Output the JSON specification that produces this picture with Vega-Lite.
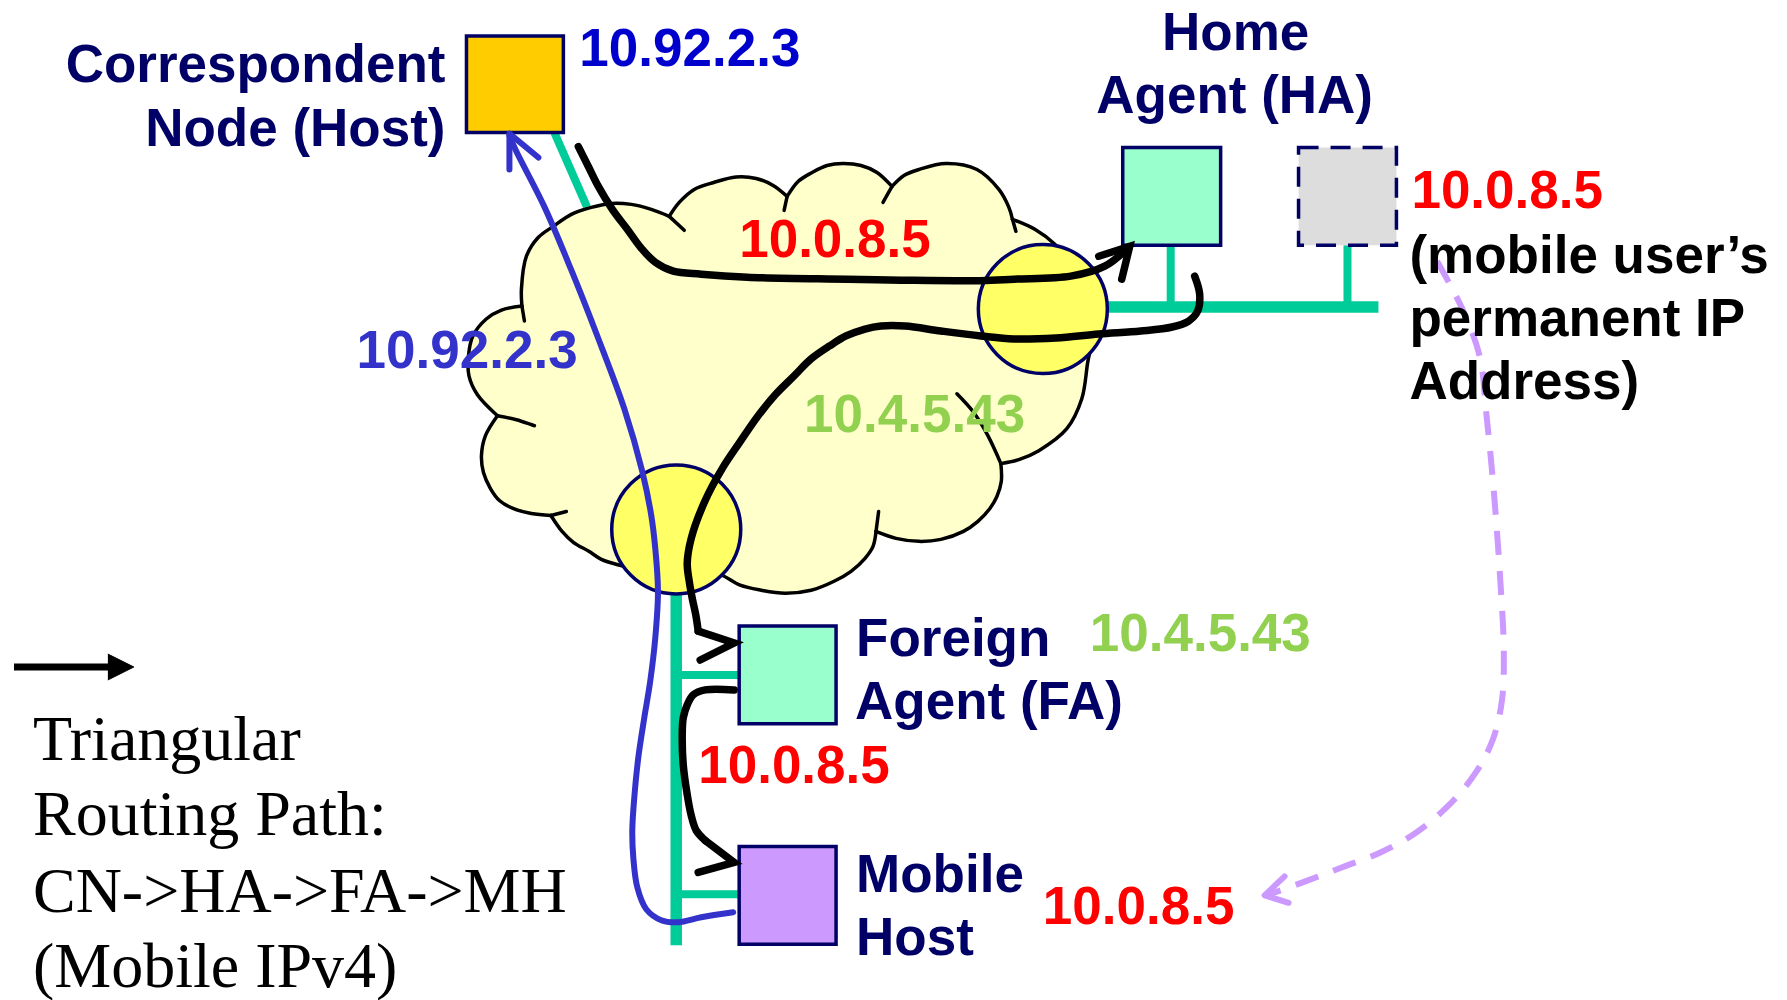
{
"$schema": "https://vega.github.io/schema/vega-lite/v6.json",
"width": 1787, "height": 1000,
"autosize": {"type": "fit", "contains": "padding"},
"padding": 0,
"background": "white",
"config": {"view": {"stroke": null}},
"datasets": {
"paths": [
{"p":"g1","k":"green","i":0,"x":553,"y":133},{"p":"g1","k":"green","i":1,"x":592,"y":222},{"p":"g1","k":"green","i":2,"x":640,"y":400},{"p":"g1","k":"green","i":3,"x":675,"y":532},
{"p":"g0","k":"green2","i":0,"x":675,"y":532},{"p":"g0","k":"green2","i":1,"x":675,"y":948},
{"p":"g2","k":"green","i":0,"x":675,"y":677},{"p":"g2","k":"green","i":1,"x":738,"y":677},
{"p":"g3","k":"green","i":0,"x":675,"y":897},{"p":"g3","k":"green","i":1,"x":738,"y":897},
{"p":"g4","k":"green2","i":0,"x":1042,"y":308},{"p":"g4","k":"green2","i":1,"x":1378,"y":308},
{"p":"g5","k":"green","i":0,"x":1170,"y":246},{"p":"g5","k":"green","i":1,"x":1170,"y":308},
{"p":"g6","k":"green","i":0,"x":1347,"y":246},{"p":"g6","k":"green","i":1,"x":1347,"y":308},
{"p":"k1","k":"black","i":0,"x":577,"y":147},{"p":"k1","k":"black","i":1,"x":587,"y":167},{"p":"k1","k":"black","i":2,"x":597,"y":187},{"p":"k1","k":"black","i":3,"x":611,"y":210},{"p":"k1","k":"black","i":4,"x":626,"y":230},{"p":"k1","k":"black","i":5,"x":640,"y":249},{"p":"k1","k":"black","i":6,"x":654,"y":263},{"p":"k1","k":"black","i":7,"x":672,"y":272},{"p":"k1","k":"black","i":8,"x":700,"y":275},{"p":"k1","k":"black","i":9,"x":746,"y":278},{"p":"k1","k":"black","i":10,"x":846,"y":280},{"p":"k1","k":"black","i":11,"x":900,"y":281},{"p":"k1","k":"black","i":12,"x":980,"y":281.5},{"p":"k1","k":"black","i":13,"x":1013,"y":280},{"p":"k1","k":"black","i":14,"x":1070,"y":277},{"p":"k1","k":"black","i":15,"x":1104,"y":267},{"p":"k1","k":"black","i":16,"x":1127,"y":249},
{"p":"k1h","k":"blackhead","i":0,"x":1098,"y":257},{"p":"k1h","k":"blackhead","i":1,"x":1129,"y":247},{"p":"k1h","k":"blackhead","i":2,"x":1121,"y":280},
{"p":"k2","k":"black","i":0,"x":1194,"y":277},{"p":"k2","k":"black","i":1,"x":1199,"y":295},{"p":"k2","k":"black","i":2,"x":1197,"y":312},{"p":"k2","k":"black","i":3,"x":1188,"y":322},{"p":"k2","k":"black","i":4,"x":1171.5,"y":328},{"p":"k2","k":"black","i":5,"x":1140,"y":332},{"p":"k2","k":"black","i":6,"x":1098,"y":335},{"p":"k2","k":"black","i":7,"x":1055,"y":339},{"p":"k2","k":"black","i":8,"x":1013,"y":340},{"p":"k2","k":"black","i":9,"x":980,"y":337},{"p":"k2","k":"black","i":10,"x":940,"y":332},{"p":"k2","k":"black","i":11,"x":904,"y":327},{"p":"k2","k":"black","i":12,"x":880,"y":327},{"p":"k2","k":"black","i":13,"x":864,"y":330},{"p":"k2","k":"black","i":14,"x":845,"y":337},{"p":"k2","k":"black","i":15,"x":828.5,"y":347},{"p":"k2","k":"black","i":16,"x":810,"y":360},{"p":"k2","k":"black","i":17,"x":793,"y":377},{"p":"k2","k":"black","i":18,"x":775,"y":395},{"p":"k2","k":"black","i":19,"x":757,"y":417},{"p":"k2","k":"black","i":20,"x":739,"y":443},{"p":"k2","k":"black","i":21,"x":721,"y":470},{"p":"k2","k":"black","i":22,"x":703.5,"y":503},{"p":"k2","k":"black","i":23,"x":690,"y":540},{"p":"k2","k":"black","i":24,"x":686,"y":565},{"p":"k2","k":"black","i":25,"x":688,"y":583},{"p":"k2","k":"black","i":26,"x":691,"y":600},{"p":"k2","k":"black","i":27,"x":694.6,"y":617},{"p":"k2","k":"black","i":28,"x":697,"y":633},
{"p":"k2h","k":"blackhead","i":0,"x":697,"y":633},{"p":"k2h","k":"blackhead","i":1,"x":733,"y":645},{"p":"k2h","k":"blackhead","i":2,"x":699,"y":662},
{"p":"k3","k":"black","i":0,"x":733,"y":692},{"p":"k3","k":"black","i":1,"x":704,"y":692},{"p":"k3","k":"black","i":2,"x":692,"y":697},{"p":"k3","k":"black","i":3,"x":686,"y":707},{"p":"k3","k":"black","i":4,"x":682,"y":720},{"p":"k3","k":"black","i":5,"x":681,"y":737},{"p":"k3","k":"black","i":6,"x":682,"y":767},{"p":"k3","k":"black","i":7,"x":686,"y":797},{"p":"k3","k":"black","i":8,"x":690,"y":818},{"p":"k3","k":"black","i":9,"x":695,"y":833},{"p":"k3","k":"black","i":10,"x":704,"y":843},
{"p":"k3h","k":"blackhead","i":0,"x":704,"y":843},{"p":"k3h","k":"blackhead","i":1,"x":733,"y":865},{"p":"k3h","k":"blackhead","i":2,"x":697,"y":875},
{"p":"b1","k":"blue","i":0,"x":732,"y":915},{"p":"b1","k":"blue","i":1,"x":700,"y":920},{"p":"b1","k":"blue","i":2,"x":677,"y":925},{"p":"b1","k":"blue","i":3,"x":660,"y":923},{"p":"b1","k":"blue","i":4,"x":645,"y":912},{"p":"b1","k":"blue","i":5,"x":636,"y":890},{"p":"b1","k":"blue","i":6,"x":632,"y":860},{"p":"b1","k":"blue","i":7,"x":631,"y":833},{"p":"b1","k":"blue","i":8,"x":633,"y":800},{"p":"b1","k":"blue","i":9,"x":637,"y":760},{"p":"b1","k":"blue","i":10,"x":643,"y":720},{"p":"b1","k":"blue","i":11,"x":649,"y":683},{"p":"b1","k":"blue","i":12,"x":654,"y":640},{"p":"b1","k":"blue","i":13,"x":656.7,"y":593},{"p":"b1","k":"blue","i":14,"x":654,"y":550},{"p":"b1","k":"blue","i":15,"x":650,"y":517},{"p":"b1","k":"blue","i":16,"x":641,"y":473},{"p":"b1","k":"blue","i":17,"x":623,"y":410},{"p":"b1","k":"blue","i":18,"x":596,"y":337},{"p":"b1","k":"blue","i":19,"x":569.6,"y":270},{"p":"b1","k":"blue","i":20,"x":542.8,"y":207},{"p":"b1","k":"blue","i":21,"x":514,"y":150},{"p":"b1","k":"blue","i":22,"x":508,"y":136},
{"p":"b1h","k":"bluehead","i":0,"x":508,"y":170},{"p":"b1h","k":"bluehead","i":1,"x":508,"y":134},{"p":"b1h","k":"bluehead","i":2,"x":537,"y":158},
{"p":"u1","k":"purple","i":0,"x":1436.7,"y":262},{"p":"u1","k":"purple","i":1,"x":1462,"y":310},{"p":"u1","k":"purple","i":2,"x":1479.5,"y":358},{"p":"u1","k":"purple","i":3,"x":1486,"y":415},{"p":"u1","k":"purple","i":4,"x":1493,"y":487},{"p":"u1","k":"purple","i":5,"x":1500,"y":582.6},{"p":"u1","k":"purple","i":6,"x":1503.5,"y":654},{"p":"u1","k":"purple","i":7,"x":1501.7,"y":702},{"p":"u1","k":"purple","i":8,"x":1493,"y":740.5},{"p":"u1","k":"purple","i":9,"x":1476,"y":774},{"p":"u1","k":"purple","i":10,"x":1448.7,"y":807.4},{"p":"u1","k":"purple","i":11,"x":1414.4,"y":836},{"p":"u1","k":"purple","i":12,"x":1380,"y":855},{"p":"u1","k":"purple","i":13,"x":1342.5,"y":869.6},{"p":"u1","k":"purple","i":14,"x":1304.8,"y":884},{"p":"u1","k":"purple","i":15,"x":1266,"y":898},
{"p":"u1h","k":"purplehead","i":0,"x":1284,"y":879},{"p":"u1h","k":"purplehead","i":1,"x":1264,"y":898},{"p":"u1h","k":"purplehead","i":2,"x":1288,"y":905.5},
{"p":"lg","k":"legend","i":0,"x":12,"y":669},{"p":"lg","k":"legend","i":1,"x":110,"y":669},
{"p":"lgh","k":"legendhead","i":0,"x":106,"y":656},{"p":"lgh","k":"legendhead","i":1,"x":132,"y":669},{"p":"lgh","k":"legendhead","i":2,"x":106,"y":682}
],
"cloud": [
{"i":0,"x":496,"y":417},{"i":1,"x":476,"y":396},{"i":2,"x":467.5,"y":377},{"i":3,"x":467,"y":357},{"i":4,"x":471.4,"y":337},{"i":5,"x":484.8,"y":320},{"i":6,"x":500,"y":311},{"i":7,"x":520.5,"y":307},
{"i":8,"x":520,"y":290},{"i":9,"x":525,"y":257},{"i":10,"x":537,"y":238},{"i":11,"x":552,"y":227},{"i":12,"x":570,"y":215},{"i":13,"x":590,"y":208},{"i":14,"x":610,"y":204},{"i":15,"x":630,"y":205},{"i":16,"x":650,"y":210},{"i":17,"x":668,"y":217},
{"i":18,"x":678,"y":203},{"i":19,"x":693,"y":190},{"i":20,"x":712.5,"y":183},{"i":21,"x":735,"y":177.5},{"i":22,"x":755,"y":179},{"i":23,"x":772,"y":186},{"i":24,"x":786,"y":197},
{"i":25,"x":797,"y":182},{"i":26,"x":811,"y":173},{"i":27,"x":826,"y":166},{"i":28,"x":842,"y":164},{"i":29,"x":860,"y":166},{"i":30,"x":876,"y":173},{"i":31,"x":891,"y":187},
{"i":32,"x":903,"y":176},{"i":33,"x":918,"y":170},{"i":34,"x":945,"y":164},{"i":35,"x":976,"y":170},{"i":36,"x":998,"y":190},{"i":37,"x":1008,"y":208},{"i":38,"x":1011.6,"y":220},
{"i":39,"x":1034,"y":230},{"i":40,"x":1054,"y":245},{"i":41,"x":1075,"y":270},{"i":42,"x":1088,"y":300},{"i":43,"x":1092,"y":335},{"i":44,"x":1087,"y":363},{"i":45,"x":1081,"y":400},{"i":46,"x":1066,"y":430},{"i":47,"x":1038,"y":452},{"i":48,"x":1018,"y":461},{"i":49,"x":1000,"y":465},
{"i":50,"x":1000.4,"y":483},{"i":51,"x":996,"y":498},{"i":52,"x":989,"y":510},{"i":53,"x":977,"y":523},{"i":54,"x":962.5,"y":533},{"i":55,"x":940,"y":541},{"i":56,"x":918,"y":543},{"i":57,"x":895,"y":540},{"i":58,"x":875,"y":533},
{"i":59,"x":872,"y":548},{"i":60,"x":864,"y":560},{"i":61,"x":850,"y":573},{"i":62,"x":833,"y":583},{"i":63,"x":810,"y":592},{"i":64,"x":784,"y":595},{"i":65,"x":760,"y":592},{"i":66,"x":739,"y":587},{"i":67,"x":721,"y":577},{"i":68,"x":690,"y":580},{"i":69,"x":650,"y":582},
{"i":70,"x":618.7,"y":567},{"i":71,"x":600,"y":561},{"i":72,"x":587.5,"y":553},{"i":73,"x":572,"y":544},{"i":74,"x":560.7,"y":533},{"i":75,"x":549.5,"y":517},
{"i":76,"x":530,"y":515},{"i":77,"x":511.6,"y":510},{"i":78,"x":498,"y":502},{"i":79,"x":489,"y":490},{"i":80,"x":482,"y":474},{"i":81,"x":480,"y":457},{"i":82,"x":484,"y":437}
],
"arcs": [
{"a":"L1","i":0,"x":520.5,"y":307},{"a":"L1","i":1,"x":500,"y":311},{"a":"L1","i":2,"x":484.8,"y":320},{"a":"L1","i":3,"x":471.4,"y":337},{"a":"L1","i":4,"x":467,"y":357},{"a":"L1","i":5,"x":467.5,"y":377},{"a":"L1","i":6,"x":476,"y":396},{"a":"L1","i":7,"x":496,"y":417},
{"a":"L2","i":0,"x":520.5,"y":307},{"a":"L2","i":1,"x":520,"y":290},{"a":"L2","i":2,"x":525,"y":257},{"a":"L2","i":3,"x":537,"y":238},{"a":"L2","i":4,"x":552,"y":227},{"a":"L2","i":5,"x":570,"y":215},{"a":"L2","i":6,"x":590,"y":208},{"a":"L2","i":7,"x":610,"y":204},{"a":"L2","i":8,"x":630,"y":205},{"a":"L2","i":9,"x":650,"y":210},{"a":"L2","i":10,"x":668,"y":217},
{"a":"T1","i":0,"x":668,"y":217},{"a":"T1","i":1,"x":678,"y":203},{"a":"T1","i":2,"x":693,"y":190},{"a":"T1","i":3,"x":712.5,"y":183},{"a":"T1","i":4,"x":735,"y":177.5},{"a":"T1","i":5,"x":755,"y":179},{"a":"T1","i":6,"x":772,"y":186},{"a":"T1","i":7,"x":786,"y":197},
{"a":"T2","i":0,"x":786,"y":197},{"a":"T2","i":1,"x":797,"y":182},{"a":"T2","i":2,"x":811,"y":173},{"a":"T2","i":3,"x":826,"y":166},{"a":"T2","i":4,"x":842,"y":164},{"a":"T2","i":5,"x":860,"y":166},{"a":"T2","i":6,"x":876,"y":173},{"a":"T2","i":7,"x":891,"y":187},
{"a":"T3","i":0,"x":891,"y":187},{"a":"T3","i":1,"x":903,"y":176},{"a":"T3","i":2,"x":918,"y":170},{"a":"T3","i":3,"x":945,"y":164},{"a":"T3","i":4,"x":976,"y":170},{"a":"T3","i":5,"x":998,"y":190},{"a":"T3","i":6,"x":1008,"y":208},{"a":"T3","i":7,"x":1011.6,"y":220},
{"a":"R1","i":0,"x":1011.6,"y":220},{"a":"R1","i":1,"x":1034,"y":230},{"a":"R1","i":2,"x":1054,"y":245},{"a":"R1","i":3,"x":1075,"y":270},{"a":"R1","i":4,"x":1088,"y":300},{"a":"R1","i":5,"x":1092,"y":335},{"a":"R1","i":6,"x":1087,"y":363},{"a":"R1","i":7,"x":1081,"y":400},{"a":"R1","i":8,"x":1066,"y":430},{"a":"R1","i":9,"x":1038,"y":452},{"a":"R1","i":10,"x":1018,"y":461},{"a":"R1","i":11,"x":1000,"y":465},
{"a":"B1","i":0,"x":1000,"y":465},{"a":"B1","i":1,"x":1000.4,"y":483},{"a":"B1","i":2,"x":996,"y":498},{"a":"B1","i":3,"x":989,"y":510},{"a":"B1","i":4,"x":977,"y":523},{"a":"B1","i":5,"x":962.5,"y":533},{"a":"B1","i":6,"x":940,"y":541},{"a":"B1","i":7,"x":918,"y":543},{"a":"B1","i":8,"x":895,"y":540},{"a":"B1","i":9,"x":875,"y":533},
{"a":"B2","i":0,"x":875,"y":533},{"a":"B2","i":1,"x":872,"y":548},{"a":"B2","i":2,"x":864,"y":560},{"a":"B2","i":3,"x":850,"y":573},{"a":"B2","i":4,"x":833,"y":583},{"a":"B2","i":5,"x":810,"y":592},{"a":"B2","i":6,"x":784,"y":595},{"a":"B2","i":7,"x":760,"y":592},{"a":"B2","i":8,"x":739,"y":587},{"a":"B2","i":9,"x":721,"y":577},{"a":"B2","i":10,"x":700,"y":570},
{"a":"B3","i":0,"x":640,"y":572},{"a":"B3","i":1,"x":618.7,"y":567},{"a":"B3","i":2,"x":600,"y":561},{"a":"B3","i":3,"x":587.5,"y":553},{"a":"B3","i":4,"x":572,"y":544},{"a":"B3","i":5,"x":560.7,"y":533},{"a":"B3","i":6,"x":549.5,"y":517},
{"a":"L0","i":0,"x":549.5,"y":517},{"a":"L0","i":1,"x":530,"y":515},{"a":"L0","i":2,"x":511.6,"y":510},{"a":"L0","i":3,"x":498,"y":502},{"a":"L0","i":4,"x":489,"y":490},{"a":"L0","i":5,"x":482,"y":474},{"a":"L0","i":6,"x":480,"y":457},{"a":"L0","i":7,"x":484,"y":437},{"a":"L0","i":8,"x":496,"y":417},
{"a":"tA","i":0,"x":520.5,"y":307},{"a":"tA","i":1,"x":523,"y":322},
{"a":"tB","i":0,"x":496,"y":417},{"a":"tB","i":1,"x":515,"y":421},{"a":"tB","i":2,"x":533,"y":427},
{"a":"tC","i":0,"x":668,"y":217},{"a":"tC","i":1,"x":683,"y":231},
{"a":"tD","i":0,"x":786,"y":197},{"a":"tD","i":1,"x":783,"y":211},
{"a":"tE","i":0,"x":891,"y":187},{"a":"tE","i":1,"x":882,"y":203},
{"a":"tF","i":0,"x":1011.6,"y":220},{"a":"tF","i":1,"x":1015,"y":232},
{"a":"tG","i":0,"x":1000,"y":465},{"a":"tG","i":1,"x":987,"y":437},{"a":"tG","i":2,"x":973,"y":414},{"a":"tG","i":3,"x":956,"y":395},
{"a":"tH","i":0,"x":875,"y":533},{"a":"tH","i":1,"x":877.6,"y":513},
{"a":"tI","i":0,"x":549.5,"y":517},{"a":"tI","i":1,"x":565,"y":513}
],
"routers": [{"name":"HA router","x":1042,"y":310},{"name":"FA router","x":675,"y":531}],
"boxes": [
{"name":"Correspondent Node","k":"cn","x":465,"x2":562,"y":36,"y2":133},
{"name":"Home Agent","k":"agent","x":1122,"x2":1220,"y":148,"y2":246},
{"name":"Foreign Agent","k":"agent","x":738,"x2":835,"y":628,"y2":726},
{"name":"Mobile Host","k":"mh","x":738,"x2":835,"y":849,"y2":947},
{"name":"Permanent address","k":"perm","x":1298,"x2":1396,"y":148,"y2":246}
],
"labels": [
{"t":"Correspondent","c":"navyR","x":444,"y":82},
{"t":"Node (Host)","c":"navyR","x":444,"y":146},
{"t":"Home","c":"navyC","x":1235,"y":50},
{"t":"Agent (HA)","c":"navyC","x":1234,"y":113},
{"t":"Foreign","c":"navyL","x":855,"y":658},
{"t":"Agent (FA)","c":"navyL","x":854,"y":721},
{"t":"Mobile","c":"navyL","x":855,"y":895},
{"t":"Host","c":"navyL","x":855,"y":958},
{"t":"10.92.2.3","c":"blue","x":578,"y":66},
{"t":"10.92.2.3","c":"blue2","x":355,"y":369},
{"t":"10.0.8.5","c":"red","x":1411,"y":209},
{"t":"10.0.8.5","c":"red","x":738,"y":258},
{"t":"10.0.8.5","c":"red","x":697,"y":785},
{"t":"10.0.8.5","c":"red","x":1042,"y":927},
{"t":"10.4.5.43","c":"green","x":803,"y":433},
{"t":"10.4.5.43","c":"green","x":1089,"y":653},
{"t":"(mobile user’s","c":"black","x":1409,"y":274},
{"t":"permanent IP","c":"black","x":1409,"y":337},
{"t":"Address)","c":"black","x":1409,"y":400},
{"t":"Triangular","c":"serif","x":31,"y":762},
{"t":"Routing Path:","c":"serif","x":31,"y":838},
{"t":"CN->HA->FA->MH","c":"serif","x":31,"y":915},
{"t":"(Mobile IPv4)","c":"serif","x":31,"y":990}
]
},
"encoding": {
"x": {"field": "x", "type": "quantitative", "scale": {"domain": [0, 1787], "nice": false, "zero": false}, "axis": null},
"y": {"field": "y", "type": "quantitative", "scale": {"domain": [0, 1000], "nice": false, "zero": false, "reverse": true}, "axis": null}
},
"layer": [
{"data": {"name": "paths"}, "transform": [{"filter": "datum.k == 'green'"}],
 "mark": {"type": "line", "color": "#00CC99", "strokeWidth": 8, "strokeCap": "butt"},
 "encoding": {"detail": {"field": "p"}, "order": {"field": "i", "type": "quantitative"}}},
{"data": {"name": "paths"}, "transform": [{"filter": "datum.k == 'green2'"}],
 "mark": {"type": "line", "color": "#00CC99", "strokeWidth": 11.5, "strokeCap": "butt"},
 "encoding": {"detail": {"field": "p"}, "order": {"field": "i", "type": "quantitative"}}},
{"data": {"name": "cloud"},
 "mark": {"type": "line", "fill": "#FFFFCC", "stroke": "#FFFFCC", "strokeWidth": 4, "strokeJoin": "round"},
 "encoding": {"order": {"field": "i", "type": "quantitative"}}},
{"data": {"name": "arcs"},
 "mark": {"type": "line", "color": "black", "strokeWidth": 3.5, "interpolate": "catmull-rom", "strokeCap": "round"},
 "encoding": {"detail": {"field": "a"}, "order": {"field": "i", "type": "quantitative"}}},
{"data": {"name": "routers"},
 "mark": {"type": "point", "shape": "circle", "size": 16641, "filled": true, "fill": "#FFFF66", "stroke": "#000066", "strokeWidth": 3.5, "opacity": 1, "fillOpacity": 1, "strokeOpacity": 1}},
{"data": {"name": "boxes"}, "transform": [{"filter": "datum.k != 'perm'"}],
 "mark": {"type": "rect", "stroke": "#000066", "strokeWidth": 3.5},
 "encoding": {"x2": {"field": "x2"}, "y2": {"field": "y2"},
   "fill": {"field": "k", "type": "nominal", "scale": {"domain": ["cn", "agent", "mh"], "range": ["#FFCC00", "#99FFCC", "#CC99FF"]}, "legend": null}}},
{"data": {"name": "boxes"}, "transform": [{"filter": "datum.k == 'perm'"}],
 "mark": {"type": "rect", "fill": "#DDDDDD", "stroke": "#000066", "strokeWidth": 3.5, "strokeDash": [20, 12]},
 "encoding": {"x2": {"field": "x2"}, "y2": {"field": "y2"}}},
{"data": {"name": "paths"}, "transform": [{"filter": "datum.k == 'black'"}],
 "mark": {"type": "line", "color": "black", "strokeWidth": 7.5, "interpolate": "catmull-rom", "strokeCap": "round", "strokeJoin": "round"},
 "encoding": {"detail": {"field": "p"}, "order": {"field": "i", "type": "quantitative"}}},
{"data": {"name": "paths"}, "transform": [{"filter": "datum.k == 'blackhead'"}],
 "mark": {"type": "line", "color": "black", "strokeWidth": 7.5, "strokeCap": "round", "strokeJoin": "miter"},
 "encoding": {"detail": {"field": "p"}, "order": {"field": "i", "type": "quantitative"}}},
{"data": {"name": "paths"}, "transform": [{"filter": "datum.k == 'blue'"}],
 "mark": {"type": "line", "color": "#3333CC", "strokeWidth": 6, "interpolate": "catmull-rom", "strokeCap": "round"},
 "encoding": {"detail": {"field": "p"}, "order": {"field": "i", "type": "quantitative"}}},
{"data": {"name": "paths"}, "transform": [{"filter": "datum.k == 'bluehead'"}],
 "mark": {"type": "line", "color": "#3333CC", "strokeWidth": 6, "strokeCap": "round", "strokeJoin": "round"},
 "encoding": {"detail": {"field": "p"}, "order": {"field": "i", "type": "quantitative"}}},
{"data": {"name": "paths"}, "transform": [{"filter": "datum.k == 'purple'"}],
 "mark": {"type": "line", "color": "#CC99FF", "strokeWidth": 6, "interpolate": "catmull-rom", "strokeDash": [24, 16]},
 "encoding": {"detail": {"field": "p"}, "order": {"field": "i", "type": "quantitative"}}},
{"data": {"name": "paths"}, "transform": [{"filter": "datum.k == 'purplehead'"}],
 "mark": {"type": "line", "color": "#CC99FF", "strokeWidth": 6, "strokeCap": "round", "strokeJoin": "round"},
 "encoding": {"detail": {"field": "p"}, "order": {"field": "i", "type": "quantitative"}}},
{"data": {"name": "paths"}, "transform": [{"filter": "datum.k == 'legend'"}],
 "mark": {"type": "line", "color": "black", "strokeWidth": 7, "strokeCap": "butt"},
 "encoding": {"detail": {"field": "p"}, "order": {"field": "i", "type": "quantitative"}}},
{"data": {"name": "paths"}, "transform": [{"filter": "datum.k == 'legendhead'"}],
 "mark": {"type": "line", "fill": "black", "stroke": "black", "strokeWidth": 1},
 "encoding": {"detail": {"field": "p"}, "order": {"field": "i", "type": "quantitative"}}},
{"data": {"name": "labels"}, "transform": [{"filter": "datum.c == 'navyR'"}],
 "mark": {"type": "text", "font": "Liberation Sans", "fontWeight": "bold", "fontSize": 53, "align": "right", "baseline": "alphabetic", "color": "#000066"},
 "encoding": {"text": {"field": "t"}}},
{"data": {"name": "labels"}, "transform": [{"filter": "datum.c == 'navyC'"}],
 "mark": {"type": "text", "font": "Liberation Sans", "fontWeight": "bold", "fontSize": 53, "align": "center", "baseline": "alphabetic", "color": "#000066"},
 "encoding": {"text": {"field": "t"}}},
{"data": {"name": "labels"}, "transform": [{"filter": "datum.c == 'navyL'"}],
 "mark": {"type": "text", "font": "Liberation Sans", "fontWeight": "bold", "fontSize": 53, "align": "left", "baseline": "alphabetic", "color": "#000066"},
 "encoding": {"text": {"field": "t"}}},
{"data": {"name": "labels"}, "transform": [{"filter": "datum.c == 'blue'"}],
 "mark": {"type": "text", "font": "Liberation Sans", "fontWeight": "bold", "fontSize": 53, "align": "left", "baseline": "alphabetic", "color": "#0000CC"},
 "encoding": {"text": {"field": "t"}}},
{"data": {"name": "labels"}, "transform": [{"filter": "datum.c == 'blue2'"}],
 "mark": {"type": "text", "font": "Liberation Sans", "fontWeight": "bold", "fontSize": 53, "align": "left", "baseline": "alphabetic", "color": "#3333CC"},
 "encoding": {"text": {"field": "t"}}},
{"data": {"name": "labels"}, "transform": [{"filter": "datum.c == 'red'"}],
 "mark": {"type": "text", "font": "Liberation Sans", "fontWeight": "bold", "fontSize": 53, "align": "left", "baseline": "alphabetic", "color": "#FF0000"},
 "encoding": {"text": {"field": "t"}}},
{"data": {"name": "labels"}, "transform": [{"filter": "datum.c == 'green'"}],
 "mark": {"type": "text", "font": "Liberation Sans", "fontWeight": "bold", "fontSize": 53, "align": "left", "baseline": "alphabetic", "color": "#92D050"},
 "encoding": {"text": {"field": "t"}}},
{"data": {"name": "labels"}, "transform": [{"filter": "datum.c == 'black'"}],
 "mark": {"type": "text", "font": "Liberation Sans", "fontWeight": "bold", "fontSize": 53, "align": "left", "baseline": "alphabetic", "color": "#000000"},
 "encoding": {"text": {"field": "t"}}},
{"data": {"name": "labels"}, "transform": [{"filter": "datum.c == 'serif'"}],
 "mark": {"type": "text", "font": "Liberation Serif", "fontWeight": "normal", "fontSize": 64, "align": "left", "baseline": "alphabetic", "color": "#000000"},
 "encoding": {"text": {"field": "t"}}}
]
}
